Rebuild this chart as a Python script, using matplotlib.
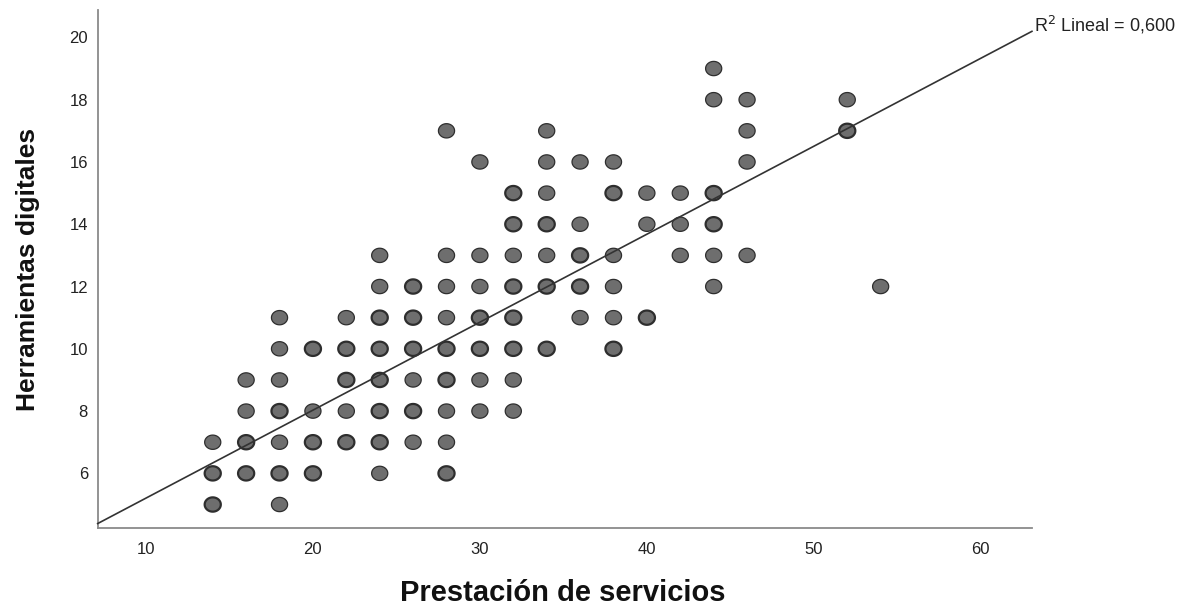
import numpy as np
import matplotlib
matplotlib.use('Agg')
import matplotlib.pyplot as plt
from matplotlib.path import Path

plt.rcParams['font.family'] = ['Liberation Sans', 'DejaVu Sans']

#%% data (one entry per visible dot, count = overlap)
prestacion = [14, 14, 14,
              16, 16, 16, 16,
              18, 18, 18, 18, 18, 18, 18,
              20, 20, 20, 20,
              22, 22, 22, 22, 22,
              24, 24, 24, 24, 24, 24, 24, 24,
              26, 26, 26, 26, 26, 26,
              28, 28, 28, 28, 28, 28, 28, 28, 28,
              30, 30, 30, 30, 30, 30, 30,
              32, 32, 32, 32, 32, 32, 32, 32,
              34, 34, 34, 34, 34, 34, 34,
              36, 36, 36, 36, 36,
              38, 38, 38, 38, 38, 38,
              40, 40, 40,
              42, 42, 42,
              44, 44, 44, 44, 44, 44,
              46, 46, 46, 46,
              52, 52,
              54]
herramientas = [7, 6, 5,
                9, 8, 7, 6,
                11, 10, 9, 8, 7, 6, 5,
                10, 8, 7, 6,
                11, 10, 9, 8, 7,
                13, 12, 11, 10, 9, 8, 7, 6,
                12, 11, 10, 9, 8, 7,
                17, 13, 12, 11, 10, 9, 8, 7, 6,
                16, 13, 12, 11, 10, 9, 8,
                15, 14, 13, 12, 11, 10, 9, 8,
                17, 16, 15, 14, 13, 12, 10,
                16, 14, 13, 12, 11,
                16, 15, 13, 12, 11, 10,
                15, 14, 11,
                15, 14, 13,
                19, 18, 15, 14, 13, 12,
                18, 17, 16, 13,
                18, 17,
                12]
conteo = [1, 2, 2,
          1, 1, 2, 2,
          1, 1, 1, 2, 1, 2, 1,
          2, 1, 2, 2,
          1, 2, 2, 1, 2,
          1, 1, 2, 2, 2, 2, 2, 1,
          2, 2, 2, 1, 2, 1,
          1, 1, 1, 1, 2, 2, 1, 1, 2,
          1, 1, 1, 2, 2, 1, 1,
          2, 2, 1, 2, 2, 2, 1, 1,
          1, 1, 1, 2, 1, 2, 2,
          1, 1, 2, 2, 1,
          1, 2, 1, 1, 1, 2,
          1, 1, 2,
          1, 1, 1,
          1, 1, 2, 2, 1, 1,
          1, 1, 1, 1,
          1, 2,
          1]

# fit line as printed by the software
pendiente = 0.2825
intercepto = 2.38
r2_label = 'R$^2$ Lineal = 0,600'

x_ticks = [10, 20, 30, 40, 50, 60]
y_ticks = [6, 8, 10, 12, 14, 16, 18, 20]

#%%
fig = plt.figure(figsize=(12.03, 6.09), dpi=100)
ax = fig.add_axes([0.0812, 0.1322, 0.7766, 0.8514])

# the dots are a bit wider than tall in the original
t = np.linspace(0, 2 * np.pi, 64)
oval = Path(np.column_stack([1.13 * np.cos(t), np.sin(t)]), closed=True)

xs = np.array(prestacion)
ys = np.array(herramientas)
cnt = np.array(conteo)
ax.scatter(xs, ys, s=135, marker=oval, facecolor='#6e6e6e',
           edgecolor='#2e2e2e', linewidths=0.9 + 0.7 * (cnt - 1), zorder=3)

xlim = (7.11, 63.06)
ylim = (4.23, 20.88)
xl = np.array(xlim)
ax.plot(xl, intercepto + pendiente * xl, color='#333333', lw=1.2, zorder=4,
        clip_on=False)
ax.text(xl[1] + 0.1, intercepto + pendiente * xl[1], r2_label,
        fontsize=13, ha='left', va='baseline', color='#222222')

ax.set_xlim(xlim)
ax.set_ylim(ylim)
ax.set_xticks(x_ticks)
ax.set_yticks(y_ticks)
ax.tick_params(length=0, labelsize=12, colors='#222222')
ax.tick_params(axis='x', pad=10)
ax.tick_params(axis='y', pad=7)
for s in ['top', 'right']:
    ax.spines[s].set_visible(False)
for s in ['left', 'bottom']:
    ax.spines[s].set_color('#8a8a8a')
    ax.spines[s].set_linewidth(1.3)

ax.set_xlabel('Prestación de servicios', fontsize=21, fontweight='bold',
              color='#111111')
ax.set_ylabel('Herramientas digitales', fontsize=19, fontweight='bold',
              color='#111111')
ax.xaxis.set_label_coords(0.498, -0.097)
ax.yaxis.set_label_coords(-0.062, 0.5)

fig.savefig('out.png', dpi=100)
